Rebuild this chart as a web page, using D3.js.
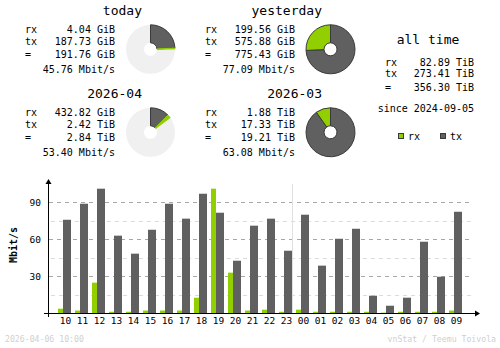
<!DOCTYPE html>
<html><head><meta charset="utf-8">
<script src="https://cdn.jsdelivr.net/npm/d3@7"></script>
<style>body{margin:0;background:#fff}svg{display:block}text{font-family:"DejaVu Sans Mono",monospace}</style>
</head><body><svg id="c" width="500" height="348"></svg>
<script>
// ---- data ----
const hours = ["10","11","12","13","14","15","16","17","18","19","20","21","22","23","00","01","02","03","04","05","06","07","08","09"];
const rxRate = [3.5,2,24.6,1,1,2,2,2,12.4,100.8,32.7,2,2.7,1,2.7,1,1,1,1,0.3,1,1,1,2];
const txRate = [75.6,88.6,100.8,62.7,48.1,67.5,88.6,76.5,96.7,81.3,42.4,70.8,76.5,50.5,79.7,38.4,60.2,68.3,14,5.9,12.4,57.8,29.4,82.1];
const yTicks = [30,60,90];
const yMinor = [15,45,75];
const periods = ["today","yesterday","2026-04","2026-03"];
const periodRxText = ["4.04 GiB","199.56 GiB","432.82 GiB","1.88 TiB"];
const periodTxText = ["187.73 GiB","575.88 GiB","2.42 TiB","17.33 TiB"];
const periodTotText = ["191.76 GiB","775.43 GiB","2.84 TiB","19.21 TiB"];
const periodRateText = ["45.76 Mbit/s","77.09 Mbit/s","53.40 Mbit/s","63.08 Mbit/s"];
const periodRx = [4.04, 199.56, 432.82, 1.88*1024];
const periodTx = [187.73, 575.88, 2.42*1024, 17.33*1024];
const allTimeLabels = ["rx","tx","="];
const allTimeText = ["82.89 TiB","273.41 TiB","356.30 TiB"];
const sinceText = "since 2024-09-05";
const legendLabels = ["rx","tx"];
const footerLeft = "2026-04-06 10:00";
const footerRight = "vnStat / Teemu Toivola";

const RX = "#92cf00", TX = "#606060", RXD = "#6a9a00", TXD = "#3a3a3a";
const svg = d3.select("#c");

// ---- summary blocks ----
const blocks = [
  {cx:150.5, cy:49.3, dx:0, dy:0},
  {cx:330.5, cy:49.3, dx:180, dy:0},
  {cx:150.5, cy:132.3, dx:0, dy:83},
  {cx:330.5, cy:132.3, dx:180, dy:83}
];
const arc = d3.arc().innerRadius(6.5).outerRadius(24.5);
blocks.forEach((b,i)=>{
  const g = svg.append("g");
  g.append("text").attr("x",142+b.dx).attr("y",15.3+b.dy).attr("text-anchor","end")
    .attr("font-size",13).attr("fill","#000").text(periods[i]);
  const rows = [["rx",periodRxText[i],32.8],["tx",periodTxText[i],45.3],[" =",periodTotText[i],58]];
  rows.forEach(r=>{
    g.append("text").attr("x",25+b.dx).attr("y",r[2]+b.dy).attr("font-size",10).text(r[0]);
    g.append("text").attr("x",115+b.dx).attr("y",r[2]+b.dy).attr("font-size",10).attr("text-anchor","end").text(r[1]);
  });
  g.append("text").attr("x",115+b.dx).attr("y",72.8+b.dy).attr("font-size",10).attr("text-anchor","end").text(periodRateText[i]);
  // pie
  const total = periodRx[i]+periodTx[i];
  let frac = 1;
  if (i===0) frac = total/(periodRx[1]+periodTx[1]);
  if (i===2) frac = total/(periodRx[3]+periodTx[3]);
  const pg = g.append("g").attr("transform",`translate(${b.cx},${b.cy})`);
  if (frac<1) pg.append("path").attr("d",arc({startAngle:0,endAngle:2*Math.PI})).attr("fill","#f0f0f0");
  const txEnd = frac*2*Math.PI*periodTx[i]/total;
  pg.append("path").attr("d",arc({startAngle:0,endAngle:txEnd})).attr("fill",TX).attr("stroke",TXD).attr("stroke-width",1);
  pg.append("path").attr("d",arc({startAngle:txEnd,endAngle:frac*2*Math.PI})).attr("fill",RX).attr("stroke",i%2===0?RX:TXD).attr("stroke-width",1);
});

// all time
svg.append("text").attr("x",428).attr("y",44).attr("text-anchor","middle").attr("font-size",13).text("all time");
[65.5,77.3,90.7].forEach((y,i)=>{
  svg.append("text").attr("x",385).attr("y",y).attr("font-size",10).text(allTimeLabels[i]==="="?" =":allTimeLabels[i]);
  svg.append("text").attr("x",474).attr("y",y).attr("font-size",10).attr("text-anchor","end").text(allTimeText[i]);
});
svg.append("text").attr("x",474).attr("y",111.7).attr("font-size",10).attr("text-anchor","end").text(sinceText);
// legend
[[398,RX,RXD],[440,TX,TXD]].forEach((l,i)=>{
  svg.append("rect").attr("x",l[0]+0.5).attr("y",133.5).attr("width",5).attr("height",5).attr("fill",l[1]).attr("stroke",TXD);
  svg.append("text").attr("x",l[0]+10).attr("y",139.5).attr("font-size",10).text(legendLabels[i]);
});

// ---- bar chart ----
const x = d3.scaleBand().domain(hours).range([56,464]).padding(0);
const y = d3.scaleLinear().domain([0,90]).range([313,202]);
const gx0 = 49, gx1 = 473;
yMinor.forEach(v=>{
  svg.append("line").attr("x1",gx0+2).attr("x2",gx1).attr("y1",Math.round(y(v))+0.5).attr("y2",Math.round(y(v))+0.5)
    .attr("stroke","#dcdcdc").attr("stroke-dasharray","4,4");
});
yTicks.forEach(v=>{
  svg.append("line").attr("x1",gx0).attr("x2",gx1).attr("y1",Math.round(y(v))+0.5).attr("y2",Math.round(y(v))+0.5)
    .attr("stroke","#a8a8a8").attr("stroke-dasharray","4,4");
  svg.append("text").attr("x",41).attr("y",Math.round(y(v))+3.5).attr("text-anchor","end")
    .attr("font-size",9.5).text(v);
});
// separator between 23 and 00
svg.append("line").attr("x1",x("00")-1.5).attr("x2",x("00")-1.5).attr("y1",184).attr("y2",313).attr("stroke","#e0e0e0");

svg.append("g").selectAll("rect.rx").data(hours).join("rect")
  .attr("x",h=>x(h)+2).attr("width",5)
  .attr("y",(h,i)=>y(rxRate[i])).attr("height",(h,i)=>y(0)-y(rxRate[i])).attr("fill",RX);
svg.append("g").selectAll("rect.tx").data(hours).join("rect")
  .attr("x",h=>x(h)+7).attr("width",8)
  .attr("y",(h,i)=>y(txRate[i])).attr("height",(h,i)=>y(0)-y(txRate[i])).attr("fill",TX);

// axes
svg.append("line").attr("x1",48.5).attr("x2",48.5).attr("y1",183).attr("y2",317).attr("stroke","#000");
svg.append("line").attr("x1",44).attr("x2",476).attr("y1",313.5).attr("y2",313.5).attr("stroke","#000");
svg.append("path").attr("d","M48.5,179 L45.5,184 L51.5,184 Z").attr("fill","#000");
svg.append("path").attr("d","M480,313.5 L475,310.5 L475,316.5 Z").attr("fill","#000");
hours.forEach(h=>{
  svg.append("text").attr("x",x(h)+9.5).attr("y",324).attr("text-anchor","middle")
    .attr("font-size",9.5).text(h);
});
svg.append("text").attr("transform","translate(17,245) rotate(-90)").attr("text-anchor","middle")
  .attr("font-size",10).attr("font-weight","bold").text("Mbit/s");

// footer
svg.append("text").attr("x",5).attr("y",342).attr("font-size",8.2).attr("fill","#d0d0d0").text(footerLeft);
svg.append("text").attr("x",496).attr("y",342).attr("font-size",8.2).attr("fill","#d0d0d0").attr("text-anchor","end").text(footerRight);
</script></body></html>
